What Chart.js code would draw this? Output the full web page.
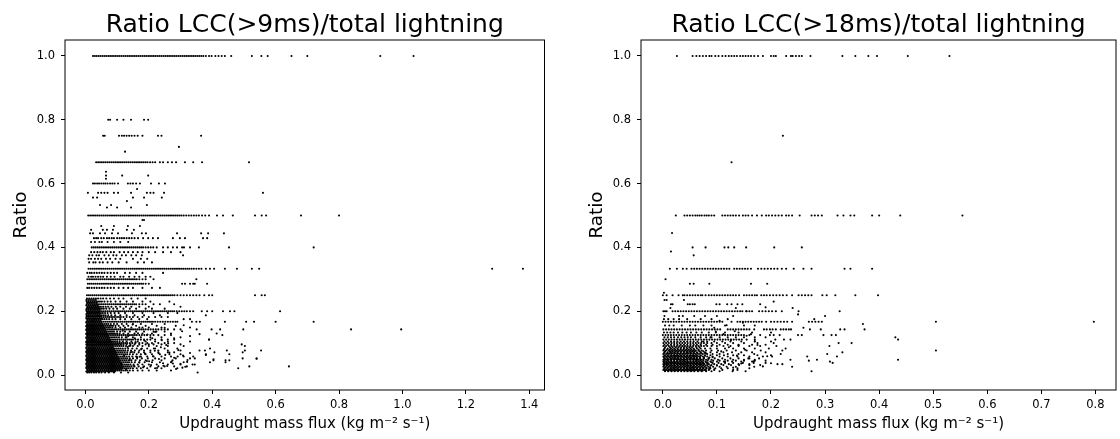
<!DOCTYPE html>
<html>
<head>
<meta charset="utf-8">
<title>Ratio LCC</title>
<script src="https://cdn.jsdelivr.net/npm/chart.js@4"></script>
<style>
  html, body { margin: 0; padding: 0; background: #fff; width: 1120px; height: 439px; overflow: hidden; }
  .panel { position: absolute; top: 0; width: 560px; height: 439px; }
  #left { left: 0; }
  #right { left: 560px; }
</style>
</head>
<body>
<div class="panel" id="left"><canvas id="chartLeft" width="560" height="439"></canvas></div>
<div class="panel" id="right"><canvas id="chartRight" width="560" height="439"></canvas></div>
<script>
// Nilai: tiap baris = satu rasio, isinya daftar flux
const leftTitle = "Ratio LCC(>9ms)/total lightning";
const rightTitle = "Ratio LCC(>18ms)/total lightning";
const xLabel = "Updraught mass flux (kg m⁻² s⁻¹)";
const yLabel = "Ratio";
const leftXTicks = [0, 0.2, 0.4, 0.6, 0.8, 1.0, 1.2, 1.4];
const rightXTicks = [0, 0.1, 0.2, 0.3, 0.4, 0.5, 0.6, 0.7, 0.8];
const yTicks = [0, 0.2, 0.4, 0.6, 0.8, 1.0];

const leftRatios = [
  1, .8, .75, .715, .7, .667, .637, .625, .615, .6, .583, .571, .556, .545, .533, .525,
  .5, .486, .467, .455, .444, .429, .417, .4, .385, .375, .364, .353, .333, .32, .308, .3, .286, .273,
  .25, .24, .23, .222, .214, .208, .2, .194, .187, .182, .175, .167, .16, .154, .149, .143, .136, .13, .125,
  .118, .111, .105, .1, .096, .091, .083, .077, .071, .065, .058, .052, .046, .04, .033, .027, .021, .014, .008,
  .011, .018, .024, .03, .037, .043, .049, .055, .062, .068, .074, .08, .087, .094, .103, .108, .115, .122, .128,
  .133, .14, .146, .152, .157, .164, .17, .177, .184, .191, .197, .204, .211, .218, .226, .235
];
const leftFlux = [
  [.024,.03,.036,.042,.048,.054,.06,.066,.072,.078,.084,.09,.096,.102,.108,.114,.12,.126,.132,.138,.144,.15,.156,.162,.168,.174,.18,.186,.192,.198,.204,.21,.216,.222,.228,.234,.24,.246,.252,.258,.264,.27,.276,.282,.288,.294,.3,.306,.312,.318,.324,.33,.336,.342,.348,.354,.36,.366,.372,.38,.39,.398,.41,.42,.43,.44,.46,.525,.555,.575,.65,.7,.93,1.035],
  [.072,.078,.1,.12,.144,.185,.198],
  [.056,.061,.106,.115,.122,.13,.138,.146,.155,.165,.18,.229,.24,.365],
  [.295],
  [.125],
  [.034,.04,.046,.052,.058,.064,.07,.076,.082,.088,.094,.1,.106,.112,.118,.124,.13,.136,.142,.148,.154,.16,.166,.172,.178,.184,.19,.196,.204,.212,.22,.235,.245,.26,.273,.286,.314,.34,.368,.516],
  [.065],
  [.065,.116,.198],
  [.065],
  [.024,.03,.037,.043,.05,.057,.063,.07,.078,.085,.092,.103,.134,.142,.15,.16,.172,.207,.232,.251],
  [.163],
  [.008,.04,.05,.06,.07,.09,.103,.144,.194,.205,.215,.248,.56],
  [.024,.037,.15,.185,.241],
  [.131],
  [.046,.081,.194],
  [.068,.1,.144],
  [.009,.015,.021,.027,.033,.039,.045,.051,.057,.063,.069,.075,.081,.087,.093,.099,.105,.111,.117,.123,.129,.135,.141,.147,.153,.159,.165,.171,.177,.183,.189,.195,.201,.207,.213,.219,.225,.231,.237,.243,.249,.255,.261,.267,.273,.279,.285,.291,.297,.303,.31,.318,.326,.334,.342,.35,.358,.368,.378,.39,.415,.434,.465,.535,.556,.57,.68,.8],
  [.18,.185],
  [.05,.09,.134,.172],
  [.018,.055,.068,.087,.131,.153],
  [.015,.024,.046,.062,.084,.103,.147,.178,.191,.289,.365,.387,.437],
  [.027,.034,.04,.05,.058,.068,.075,.083,.09,.1,.108,.115,.122,.13,.138,.146,.155,.166,.182,.198,.213,.229,.276,.298,.314,.371,.384],
  [.018,.03,.044,.052,.07,.09,.11,.135],
  [.02,.026,.032,.038,.044,.05,.056,.062,.068,.074,.08,.086,.092,.098,.104,.11,.116,.122,.128,.134,.14,.146,.152,.158,.164,.17,.176,.182,.19,.198,.206,.214,.225,.245,.26,.276,.289,.305,.311,.33,.358,.453,.72],
  [.018,.028,.038,.047,.055,.066,.08,.09,.108,.122,.135,.15,.165,.18,.2,.22,.245,.27,.3],
  [.012,.022,.035,.043,.06,.074,.088,.098,.115,.128,.145,.16,.178,.308],
  [.01,.018,.03,.04,.05,.065,.078,.095,.11,.15,.175,.195],
  [.012,.025,.032,.045,.055,.07,.085,.105,.13,.165,.185,.21],
  [.01,.016,.022,.028,.034,.04,.046,.052,.058,.064,.07,.076,.082,.088,.094,.1,.106,.112,.118,.124,.13,.136,.142,.148,.154,.16,.166,.172,.178,.184,.19,.196,.202,.208,.214,.22,.226,.232,.238,.244,.25,.256,.262,.268,.274,.28,.286,.292,.298,.304,.31,.316,.322,.328,.335,.342,.35,.358,.366,.38,.393,.406,.44,.478,.525,.548,1.283,1.38],
  [.006,.014,.02,.028,.036,.044,.052,.06,.07,.08,.09,.1,.125,.14,.16,.18,.245],
  [.01,.018,.024,.032,.04,.048,.056,.068,.08,.092,.11,.12,.138,.155,.17,.19,.205],
  [.006,.012,.018,.024,.03,.036,.042,.048,.054,.06,.066,.072,.078,.084,.09,.096,.102,.108,.114,.12,.126,.132,.138,.144,.15,.156,.162,.17,.18,.19,.215,.35],
  [.008,.014,.02,.026,.032,.038,.044,.05,.056,.062,.068,.074,.08,.086,.092,.098,.104,.11,.116,.122,.128,.134,.14,.146,.152,.158,.164,.17,.176,.182,.19,.2,.305,.314,.33,.34,.345,.384],
  [.006,.012,.02,.028,.036,.044,.052,.06,.07,.08,.09,.105,.12,.135,.15,.18,.21,.235],
  [.005,.011,.017,.023,.029,.035,.041,.047,.053,.059,.065,.071,.077,.083,.089,.095,.101,.107,.113,.119,.125,.131,.137,.143,.149,.155,.161,.167,.173,.179,.185,.191,.197,.203,.209,.215,.221,.227,.233,.239,.245,.251,.257,.263,.269,.275,.281,.29,.3,.31,.32,.33,.34,.35,.36,.375,.39,.4,.535,.556,.566],
  [.005,.012,.019,.026,.033,.04,.048,.056,.066,.078,.09,.105,.12,.145,.165,.19],
  [.004,.01,.016,.022,.028,.034,.04,.046,.052,.06,.07,.08,.095,.11,.13,.15,.18,.205,.265],
  [.004,.01,.016,.022,.028,.034,.04,.046,.052,.058,.064,.07,.076,.082,.088,.094,.1,.106,.112,.118,.124,.13,.136,.142,.148,.154,.16,.17,.18,.19,.215,.235,.28],
  [.007,.013,.019,.025,.031,.037,.043,.049,.056,.064,.072,.082,.096,.11,.128,.145,.17,.2,.3],
  [.004,.01,.016,.022,.028,.034,.04,.046,.052,.058,.066,.076,.088,.1,.12,.14,.16,.19,.21,.25],
  [.004,.01,.016,.022,.028,.034,.04,.046,.052,.058,.064,.07,.076,.082,.088,.094,.1,.106,.112,.118,.124,.13,.136,.142,.148,.154,.16,.166,.172,.178,.184,.19,.196,.202,.208,.214,.22,.226,.232,.238,.244,.25,.256,.262,.268,.274,.28,.288,.296,.304,.312,.32,.33,.34,.367,.384,.4,.434,.456,.47,.614],
  [.007,.013,.019,.025,.031,.037,.043,.049,.055,.062,.07,.08,.092,.105,.125,.15,.18,.215,.26,.29],
  [.004,.01,.016,.022,.028,.034,.04,.046,.052,.058,.064,.072,.082,.094,.11,.13,.155,.185,.235,.38],
  [.003,.009,.015,.021,.027,.033,.039,.045,.051,.057,.063,.069,.075,.081,.087,.093,.1,.106,.112,.12,.13,.14,.15,.165,.18,.2,.22,.24,.26],
  [.006,.012,.018,.024,.03,.036,.042,.048,.054,.06,.067,.075,.085,.095,.11,.125,.145,.17,.195,.31,.33],
  [.003,.009,.015,.021,.027,.033,.039,.045,.051,.057,.063,.069,.075,.081,.087,.093,.099,.105,.111,.117,.123,.129,.135,.141,.147,.153,.159,.165,.171,.177,.183,.189,.195,.201,.207,.213,.22,.228,.236,.244,.252,.26,.268,.276,.284,.29,.336,.35,.361,.44,.507,.532,.6,.72],
  [.006,.012,.018,.024,.03,.036,.042,.048,.054,.06,.066,.072,.08,.09,.1,.115,.13,.15,.175,.21,.25],
  [.003,.009,.015,.021,.027,.033,.039,.045,.051,.057,.063,.069,.075,.081,.087,.095,.105,.12,.135,.16,.19,.225,.285],
  [.006,.012,.018,.024,.03,.036,.042,.048,.054,.06,.066,.072,.078,.085,.095,.11,.125,.145,.17,.2,.24,.33],
  [.003,.009,.015,.021,.027,.033,.039,.045,.051,.057,.063,.069,.075,.081,.087,.093,.099,.105,.111,.117,.123,.129,.135,.141,.147,.153,.159,.165,.171,.177,.183,.19,.198,.206,.214,.222,.23,.24,.25,.26,.28,.3,.351,.398,.425,.498,.838,.996],
  [.006,.012,.018,.024,.03,.036,.042,.048,.054,.06,.066,.072,.078,.084,.09,.1,.11,.125,.14,.16,.185,.215,.25],
  [.003,.009,.015,.021,.027,.033,.039,.045,.051,.057,.063,.069,.075,.081,.087,.093,.1,.108,.12,.135,.155,.18,.21,.27,.414],
  [.006,.012,.018,.024,.03,.036,.042,.048,.054,.06,.066,.072,.078,.084,.09,.096,.102,.108,.114,.12,.126,.132,.138,.144,.15,.156,.162,.17,.178,.186,.194,.205,.215,.23,.25,.27,.432],
  [.003,.009,.015,.021,.027,.033,.039,.045,.051,.057,.063,.069,.075,.081,.087,.093,.099,.106,.115,.13,.15,.175,.205,.24,.3],
  [.006,.012,.018,.024,.03,.036,.042,.048,.054,.06,.066,.072,.078,.084,.09,.096,.102,.108,.114,.12,.126,.132,.138,.144,.15,.158,.166,.175,.185,.195,.205,.22,.24,.26,.28,.39],
  [.003,.009,.015,.021,.027,.033,.039,.045,.051,.057,.063,.069,.075,.081,.087,.093,.1,.108,.118,.13,.145,.165,.19,.22,.26,.33],
  [.006,.012,.018,.024,.03,.036,.042,.048,.054,.06,.066,.072,.078,.084,.09,.096,.102,.108,.114,.12,.126,.132,.14,.148,.158,.17,.18,.195,.21,.23,.25,.28],
  [.003,.009,.015,.021,.027,.033,.039,.045,.051,.057,.063,.069,.075,.081,.087,.093,.099,.105,.112,.12,.13,.142,.155,.17,.19,.215,.24,.3,.493],
  [.006,.012,.018,.024,.03,.036,.042,.048,.054,.06,.066,.072,.078,.084,.09,.096,.102,.108,.114,.12,.128,.138,.15,.165,.18,.2,.225,.26,.31,.503],
  [.003,.009,.015,.021,.027,.033,.039,.045,.051,.057,.063,.069,.075,.081,.087,.093,.099,.105,.111,.118,.126,.135,.148,.162,.178,.195,.22,.25,.29,.393],
  [.006,.012,.018,.024,.03,.036,.042,.048,.054,.06,.066,.072,.078,.084,.09,.096,.102,.108,.114,.12,.126,.134,.144,.156,.17,.185,.205,.23,.26,.3,.36,.377,.446,.503,.554],
  [.003,.009,.015,.021,.027,.033,.039,.045,.051,.057,.063,.069,.075,.081,.087,.093,.099,.105,.111,.117,.124,.132,.142,.154,.168,.185,.205,.23,.26,.28,.407,.496],
  [.006,.012,.018,.024,.03,.036,.042,.048,.054,.06,.066,.072,.078,.084,.09,.096,.102,.108,.114,.12,.126,.132,.14,.15,.162,.175,.19,.21,.235,.265,.3,.38,.454],
  [.003,.009,.015,.021,.027,.033,.039,.045,.051,.057,.063,.069,.075,.081,.087,.093,.099,.105,.111,.117,.123,.13,.138,.148,.16,.175,.195,.215,.24,.27,.31,.34],
  [.006,.012,.018,.024,.03,.036,.042,.048,.054,.06,.066,.072,.078,.084,.09,.096,.102,.108,.114,.12,.126,.132,.14,.15,.163,.178,.197,.22,.25,.285,.33,.496,.54],
  [.003,.009,.015,.021,.027,.033,.039,.045,.051,.057,.063,.069,.075,.081,.087,.093,.099,.105,.111,.117,.123,.129,.136,.145,.158,.172,.19,.212,.24,.275,.404,.442,.454],
  [.006,.012,.018,.024,.03,.036,.042,.048,.054,.06,.066,.072,.078,.084,.09,.096,.102,.108,.114,.12,.126,.132,.138,.146,.156,.17,.187,.21,.235,.27,.31,.393,.442],
  [.003,.009,.015,.021,.027,.033,.039,.045,.051,.057,.063,.069,.075,.081,.087,.093,.099,.105,.111,.117,.123,.129,.135,.142,.152,.165,.18,.2,.225,.26,.3,.345],
  [.006,.012,.018,.024,.03,.036,.042,.048,.054,.06,.066,.072,.078,.084,.09,.096,.102,.108,.114,.12,.126,.132,.138,.145,.155,.168,.185,.205,.23,.25,.28,.32,.517,.642],
  [.003,.009,.015,.021,.027,.033,.039,.045,.051,.057,.063,.069,.075,.081,.087,.093,.099,.105,.111,.117,.123,.129,.135,.142,.15,.162,.175,.195,.22,.24,.29,.482],
  [.006,.012,.018,.024,.03,.036,.042,.048,.054,.06,.066,.072,.078,.084,.09,.096,.102,.108,.114,.12,.126,.132,.14,.15,.165,.18,.2,.225,.27],
  [.006,.012,.019,.027,.034,.043,.051,.062,.074,.09,.112,.135,.354],
  [.003,.009,.015,.021,.027,.033,.039,.045,.051,.057,.063,.069,.075,.081,.087,.093],
  [.006,.012,.018,.024,.03,.036,.042,.048,.054,.06,.066,.072,.078,.084,.09,.096,.102,.108,.114],
  [.003,.009,.015,.021,.027,.033,.039,.045,.051,.057,.063,.069,.075,.081,.087,.093,.099,.105,.111,.117],
  [.006,.012,.018,.024,.03,.036,.042,.048,.054,.06,.066,.072,.078,.084,.09,.096,.102,.108,.114],
  [.003,.009,.015,.021,.027,.033,.039,.045,.051,.057,.063,.069,.075,.081,.087,.093,.099,.105,.111],
  [.006,.012,.018,.024,.03,.036,.042,.048,.054,.06,.066,.072,.078,.084,.09,.096,.102,.108],
  [.003,.009,.015,.021,.027,.033,.039,.045,.051,.057,.063,.069,.075,.081,.087,.093,.099,.105],
  [.006,.012,.018,.024,.03,.036,.042,.048,.054,.06,.066,.072,.078,.084,.09,.096,.102],
  [.003,.009,.015,.021,.027,.033,.039,.045,.051,.057,.063,.069,.075,.081,.087,.093,.099],
  [.006,.012,.018,.024,.03,.036,.042,.048,.054,.06,.066,.072,.078,.084,.09,.096],
  [.003,.009,.015,.021,.027,.033,.039,.045,.051,.057,.063,.069,.075,.081,.087,.093],
  [.006,.012,.018,.024,.03,.036,.042,.048,.054,.06,.066,.072,.078,.084,.09],
  [.003,.009,.015,.021,.027,.033,.039,.045,.051,.057,.063,.069,.075,.081,.087],
  [.006,.012,.018,.024,.03,.036,.042,.048,.054,.06,.066,.072,.078,.084],
  [.003,.009,.015,.021,.027,.033,.039,.045,.051,.057,.063,.069,.075,.081],
  [.006,.012,.018,.024,.03,.036,.042,.048,.054,.06,.066,.072,.078],
  [.003,.009,.015,.021,.027,.033,.039,.045,.051,.057,.063,.069,.075],
  [.006,.012,.018,.024,.03,.036,.042,.048,.054,.06,.066,.072],
  [.003,.009,.015,.021,.027,.033,.039,.045,.051,.057,.063,.069],
  [.006,.012,.018,.024,.03,.036,.042,.048,.054,.06,.066],
  [.003,.009,.015,.021,.027,.033,.039,.045,.051,.057,.063],
  [.006,.012,.018,.024,.03,.036,.042,.048,.054,.06],
  [.003,.009,.015,.021,.027,.033,.039,.045,.051,.057],
  [.006,.012,.018,.024,.03,.036,.042,.048,.054],
  [.003,.009,.015,.021,.027,.033,.039,.045,.051],
  [.006,.012,.018,.024,.03,.036,.042,.048],
  [.003,.009,.015,.021,.027,.033,.039,.045,.051],
  [.006,.012,.018,.024,.03,.036,.042,.048],
  [.003,.009,.015,.021,.027,.033,.039,.045],
  [.006,.012,.018,.024,.03,.036,.042],
  [.003,.009,.015,.021,.027,.033,.039,.045],
  [.006,.012,.018,.024,.03,.036,.042],
  [.003,.009,.015,.021,.027,.033,.039],
  [.006,.012,.018,.024,.03,.036],
  [.003,.009,.015,.021,.027,.033]
];

const rightRatios = [
  1, .75, .667, .5, .445, .4, .387, .375, .333, .3, .286, .258, .25, .235, .222, .21, .2, .185, .175, .167, .155, .143, .133, .125,
  .118, .111, .105, .1, .095, .091, .083, .077, .071, .066, .062, .058, .052, .048, .045, .042, .038, .034, .031, .026, .021, .016, .012,
  .087, .08, .074, .068, .06, .055, .05, .04, .036, .029, .023, .018, .014
];
const rightFlux = [
  [.026,.055,.062,.068,.074,.08,.086,.09,.097,.103,.11,.116,.122,.127,.132,.137,.143,.148,.153,.158,.163,.169,.176,.185,.2,.205,.209,.228,.237,.24,.246,.252,.257,.273,.332,.356,.38,.396,.453,.53],
  [.222],
  [.127],
  [.024,.04,.045,.05,.055,.06,.064,.068,.072,.077,.081,.085,.09,.095,.11,.115,.12,.125,.13,.135,.141,.148,.153,.158,.165,.174,.183,.191,.196,.202,.208,.214,.22,.228,.233,.239,.253,.275,.281,.287,.294,.323,.334,.347,.354,.387,.4,.439,.554],
  [.017],
  [.055,.079,.114,.121,.132,.154,.206,.257],
  [.015],
  [.057],
  [.013,.026,.037,.044,.053,.058,.063,.068,.073,.078,.083,.088,.093,.098,.103,.108,.113,.118,.123,.132,.137,.142,.147,.152,.157,.163,.176,.182,.188,.194,.2,.206,.212,.22,.228,.242,.26,.275,.336,.347,.387],
  [.005],
  [.05,.057,.086,.163,.193],
  [.002],
  [0,.007,.018,.029,.037,.04,.045,.05,.055,.06,.065,.07,.073,.079,.085,.09,.095,.1,.105,.11,.115,.12,.125,.13,.135,.141,.15,.155,.16,.165,.17,.174,.182,.187,.192,.198,.204,.21,.216,.222,.229,.239,.251,.257,.263,.269,.275,.295,.303,.319,.356,.398],
  [.003,.007,.039],
  [.015,.018,.046,.05,.055,.059,.099,.105,.119,.127,.138,.147,.18],
  [.014,.135],
  [.001,.004,.007,.018,.023,.028,.033,.038,.043,.048,.053,.058,.063,.068,.073,.078,.083,.088,.093,.098,.103,.108,.113,.118,.123,.128,.133,.138,.143,.147,.154,.16,.165,.178,.184,.19,.196,.202,.209,.22,.251,.327],
  [.003,.03,.037,.058,.078,.1,.13],
  [.002,.01,.02,.03,.045,.07,.09,.12],
  [0,.005,.01,.015,.02,.025,.03,.035,.04,.045,.05,.055,.06,.065,.07,.075,.08,.085,.09,.095,.1,.105,.11,.127,.138,.143,.148,.153,.158,.163,.168,.173,.178,.183,.191,.2,.206,.212,.218,.224,.23,.239,.27,.276,.282,.288,.294,.505,.797],
  [.004,.012,.02,.035,.05,.06,.075,.09,.115,.15,.17],
  [.001,.006,.011,.016,.021,.026,.031,.036,.041,.046,.051,.056,.061,.066,.071,.076,.081,.086,.091,.096,.101,.106,.12,.125,.13,.135,.14,.145,.15,.155,.16,.169,.187,.192,.198,.203,.209,.218,.223,.228,.233,.237,.272,.292,.328,.336,.373],
  [.002,.008,.014,.02,.028,.036,.044,.052,.062,.072,.085,.098,.115,.14,.165,.2],
  [0,.005,.01,.015,.02,.025,.03,.035,.04,.045,.05,.055,.06,.065,.07,.075,.08,.085,.09,.095,.1,.105,.11,.115,.12,.125,.13,.135,.14,.145,.15,.16,.18,.198,.205,.216,.25,.257,.297,.312,.32],
  [.003,.009,.015,.021,.028,.034,.04,.046,.052,.06,.07,.08,.09,.105,.12,.135,.15,.17,.19,.43],
  [.001,.006,.011,.016,.021,.026,.031,.036,.041,.046,.051,.056,.061,.066,.071,.076,.081,.086,.091,.096,.101,.106,.111,.116,.121,.126,.131,.136,.141,.146,.155,.17,.208,.224,.236,.435],
  [.003,.009,.015,.021,.027,.033,.039,.045,.051,.057,.064,.072,.082,.095,.11,.125,.145,.17,.2],
  [.001,.006,.011,.016,.021,.026,.031,.036,.041,.046,.051,.056,.061,.066,.071,.076,.082,.09,.1,.115,.13,.15,.175,.205,.349,.325],
  [.003,.009,.015,.021,.027,.033,.039,.045,.051,.057,.063,.07,.08,.092,.105,.12,.14,.165,.19],
  [.001,.006,.011,.016,.021,.026,.031,.036,.041,.046,.051,.056,.061,.066,.071,.076,.082,.09,.1,.112,.125,.14,.16,.18,.21,.308],
  [.003,.009,.015,.021,.027,.033,.039,.045,.051,.057,.063,.07,.078,.088,.1,.115,.13,.15,.17,.196,.227],
  [.001,.006,.011,.016,.021,.026,.031,.036,.041,.046,.051,.056,.061,.066,.072,.08,.09,.102,.118,.135,.155,.181,.221,.505],
  [.003,.009,.015,.021,.027,.033,.039,.045,.051,.057,.063,.07,.078,.088,.1,.112,.128,.145,.165,.19,.332],
  [.001,.006,.011,.016,.021,.026,.031,.036,.041,.046,.051,.056,.061,.067,.074,.082,.092,.105,.12,.14,.169,.218,.304],
  [.003,.009,.015,.021,.027,.033,.039,.045,.051,.057,.063,.07,.078,.088,.1,.113,.13,.15,.175,.2],
  [.001,.006,.011,.016,.021,.026,.031,.036,.041,.046,.051,.056,.061,.067,.074,.082,.092,.105,.12,.138,.16,.185,.202,.267,.322],
  [.003,.009,.015,.021,.027,.033,.039,.045,.051,.057,.063,.069,.076,.085,.096,.11,.125,.14,.158,.178],
  [.001,.006,.011,.016,.021,.026,.031,.036,.041,.046,.051,.056,.061,.066,.072,.08,.09,.102,.115,.13,.15,.17,.236,.285,.435],
  [.003,.009,.015,.021,.027,.033,.039,.045,.051,.057,.063,.069,.075,.083,.093,.105,.12,.135,.15,.17,.19,.27],
  [.001,.006,.011,.016,.021,.026,.031,.036,.041,.046,.051,.056,.061,.066,.072,.079,.088,.1,.113,.128,.145,.165,.309],
  [.003,.009,.015,.021,.027,.033,.039,.045,.051,.057,.063,.069,.075,.083,.092,.103,.115,.13,.148,.168,.19,.314],
  [.001,.006,.011,.016,.021,.026,.031,.036,.041,.046,.051,.056,.061,.066,.071,.077,.085,.095,.108,.122,.14,.16,.221,.212],
  [.003,.009,.015,.021,.027,.033,.039,.045,.051,.057,.063,.069,.075,.082,.09,.1,.112,.126,.141,.16,.18],
  [.001,.006,.011,.016,.021,.026,.031,.036,.041,.046,.051,.056,.061,.066,.071,.077,.084,.093,.105,.118,.135,.169,.239],
  [.003,.009,.015,.021,.027,.033,.039,.045,.051,.057,.063,.069,.075,.081,.088,.097,.108,.12,.138,.16],
  [.001,.006,.011,.016,.021,.026,.031,.036,.041,.046,.051,.056,.061,.066,.071,.077,.085,.095,.11,.13,.138],
  [.004,.01,.016,.022,.028,.034,.04,.046,.052,.058,.065,.072,.08,.09,.105,.129,.153,.275],
  [.004,.013,.018,.024,.029,.034,.039,.044,.049,.054,.062,.068],
  [.002,.008,.013,.018,.023,.028,.033,.038,.043,.048,.053,.058,.066],
  [.004,.013,.018,.024,.029,.034,.039,.044,.049,.054,.059,.068,.075],
  [.002,.008,.013,.018,.023,.028,.033,.038,.043,.048,.053,.058,.064,.071,.08],
  [.004,.009,.014,.019,.024,.029,.034,.039,.044,.049,.054,.059,.064,.07,.078],
  [.002,.007,.013,.018,.023,.028,.033,.038,.043,.048,.053,.058,.063,.069,.076,.086],
  [.004,.009,.014,.019,.024,.029,.034,.039,.044,.049,.054,.059,.064,.069,.075,.084],
  [.002,.007,.013,.018,.023,.028,.033,.038,.043,.048,.053,.058,.063,.068,.073,.08,.09],
  [.004,.009,.014,.019,.024,.029,.034,.039,.044,.049,.054,.059,.064,.069,.074,.082],
  [.002,.007,.013,.018,.023,.028,.033,.038,.043,.048,.053,.058,.063,.068,.073,.079,.088],
  [.004,.009,.014,.019,.024,.029,.034,.039,.044,.049,.054,.059,.064,.069,.074,.08,.087],
  [.002,.007,.013,.018,.023,.028,.033,.038,.043,.048,.053,.058,.063,.068,.073,.079,.086,.095],
  [.004,.009,.014,.019,.024,.029,.034,.039,.044,.049,.054,.059,.064,.069,.074,.08]
];

// titik sebar yang tidak ada di baris rasio (flux, ratio)
const leftLooseX = [.54,.404,.39,.38,.36,.33,.305,.28,.25,.22,.31,
  .115,.122,.128,.133,.14,.147,.152,.158,.163,.17,.176,.182,.188,.194,.2,.207,.213,.219,.226,.232,.238,.245,.252,.258,.265,.272,.28,.286,.293,.3,.308,.315,.322,.33,.338,.345,
  .127,.142,.156,.171,.186,.201,.216,.231,.246,.261,.276,.291,.306,.321,.118,.135,.149,.166,.18,.196,.211,.224,.241,.255];
const leftLooseY = [.051,.049,.111,.063,.128,.122,.137,.115,.148,.135,.156,
  .034,.061,.018,.088,.047,.072,.029,.103,.056,.039,.081,.024,.067,.044,.096,.031,.059,.076,.022,.05,.087,.037,.063,.028,.07,.042,.054,.019,.078,.035,.061,.026,.047,.069,.033,.052,
  .118,.092,.115,.057,.108,.043,.083,.068,.029,.099,.036,.058,.023,.041,.139,.122,.158,.131,.149,.127,.115,.136,.109,.094];
const rightLooseX = [.37,.28,.25,.24,.3,.26,.19,.205,.155,
  .055,.062,.07,.078,.085,.092,.1,.108,.115,.122,.13,.137,.145,.152,.16,.168,.175,.185,.193,.2,.075,.088,.098,.112,.126,.14,.155,.17,.095,.105,.118,.133,.148,.163];
const rightLooseY = [.16,.175,.19,.21,.185,.148,.212,.23,.2,
  .024,.047,.033,.068,.018,.056,.029,.074,.041,.087,.023,.061,.036,.079,.052,.043,.094,.027,.059,.037,.105,.118,.136,.128,.11,.093,.123,.106,.148,.17,.156,.137,.164,.128];

function buildPoints(ratios, flux, looseX, looseY) {
    const points = [];
    ratios.forEach((r, i) => {
        flux[i].forEach(x => points.push({ x: x, y: r }));
    });
    looseX.forEach((x, i) => points.push({ x: x, y: looseY[i] }));
    return points;
}

const font = "'DejaVu Sans'";

// spine atas dan kanan, Chart.js cuma gambar kiri dan bawah
const framePlugin = {
    id: "frame",
    afterDatasetsDraw(chart) {
        const a = chart.chartArea;
        const ctx = chart.ctx;
        ctx.save();
        ctx.strokeStyle = "#000";
        ctx.lineWidth = 1;
        ctx.strokeRect(a.left, a.top, a.right - a.left, a.bottom - a.top);
        ctx.restore();
    }
};

function makeChart(id, title, points, xTicks, xMin, xMax, axisWidth, padRight, ratioPad) {
    const ctx = document.getElementById(id).getContext("2d");
    return new Chart(ctx, {
        type: "scatter",
        data: {
            datasets: [{
                data: points,
                pointRadius: 1.05,
                pointBorderWidth: 0,
                pointBackgroundColor: "#000",
                showLine: false
            }]
        },
        plugins: [framePlugin],
        options: {
            responsive: false,
            animation: false,
            layout: { padding: { top: 10, right: padRight, bottom: 0, left: 0 } },
            plugins: {
                legend: { display: false },
                tooltip: { enabled: false },
                title: {
                    display: true,
                    text: title,
                    fullSize: false,
                    color: "#000",
                    font: { family: font, size: 25, weight: "normal", lineHeight: 1.2 },
                    padding: { top: 0, bottom: 0 }
                }
            },
            scales: {
                x: {
                    type: "linear",
                    min: xMin,
                    max: xMax,
                    afterFit(s) { s.height = 49; s.paddingLeft = 0; s.paddingRight = 0; },
                    afterBuildTicks(s) { s.ticks = xTicks.map(v => ({ value: v })); },
                    border: { display: false },
                    grid: { drawOnChartArea: false, drawTicks: true, tickLength: 4, tickColor: "#000" },
                    ticks: {
                        color: "#000",
                        maxRotation: 0,
                        autoSkip: false,
                        padding: 4,
                        font: { family: font, size: 11.5 },
                        callback: v => v.toFixed(1)
                    },
                    title: {
                        display: true,
                        text: xLabel,
                        color: "#000",
                        font: { family: font, size: 15 },
                        padding: { top: 0, bottom: 6 }
                    }
                },
                y: {
                    type: "linear",
                    min: -0.047,
                    max: 1.05,
                    afterFit(s) { s.width = axisWidth; s.paddingTop = 0; s.paddingBottom = 0; },
                    afterBuildTicks(s) { s.ticks = yTicks.map(v => ({ value: v })); },
                    border: { display: false },
                    grid: { drawOnChartArea: false, drawTicks: true, tickLength: 4, tickColor: "#000" },
                    ticks: {
                        color: "#000",
                        autoSkip: false,
                        padding: 6,
                        font: { family: font, size: 11.5 },
                        callback: v => v.toFixed(1)
                    },
                    title: {
                        display: true,
                        text: yLabel,
                        color: "#000",
                        font: { family: font, size: 18.4 },
                        padding: { top: ratioPad, bottom: 0 }
                    }
                }
            }
        }
    });
}

document.addEventListener("DOMContentLoaded", function () {
    makeChart("chartLeft", leftTitle, buildPoints(leftRatios, leftFlux, leftLooseX, leftLooseY),
        leftXTicks, -0.0643, 1.448, 65, 15.5, 10);
    makeChart("chartRight", rightTitle, buildPoints(rightRatios, rightFlux, rightLooseX, rightLooseY),
        rightXTicks, -0.0404, 0.838, 81, 0.5, 26);
});
</script>
</body>
</html>
